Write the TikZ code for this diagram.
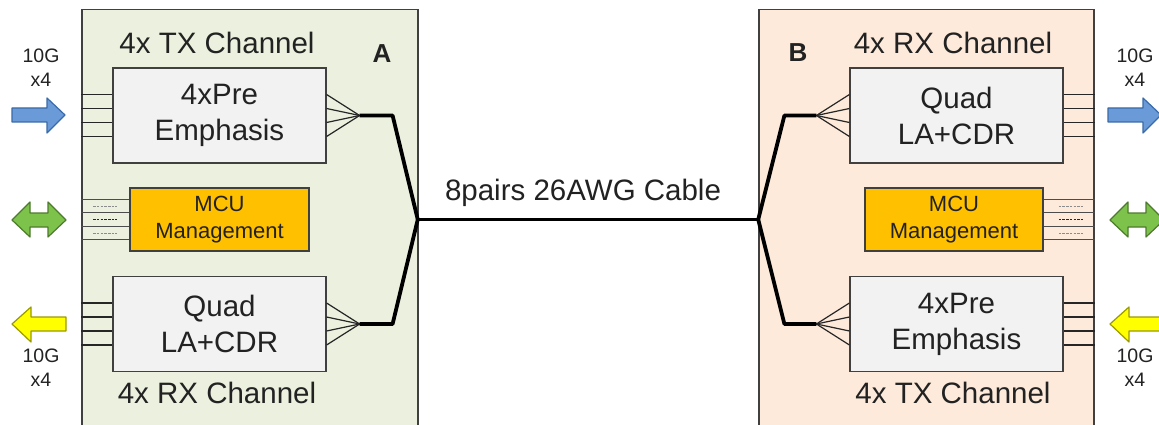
\documentclass[tikz,border=0pt]{standalone}
\usepackage{fontspec}
\setmainfont{Liberation Sans}
\usetikzlibrary{calc}
\definecolor{panelgreen}{HTML}{EBF1DE}
\definecolor{panelpeach}{HTML}{FDEADA}
\definecolor{boxgray}{HTML}{F2F2F2}
\definecolor{mcuorange}{HTML}{FFC000}
\definecolor{txt}{HTML}{222222}
\definecolor{edge}{HTML}{404040}
\definecolor{bluefill}{HTML}{6A9BD8}
\definecolor{blueedge}{HTML}{3A6AA8}
\definecolor{greenfill}{HTML}{7DC24B}
\definecolor{greenedge}{HTML}{4E7A2E}
\definecolor{yellowfill}{HTML}{FFFF00}
\definecolor{yellowedge}{HTML}{9A9A00}
\tikzset{
 panelbox/.style={draw=edge, line width=1.5pt, minimum height=440pt, inner sep=0pt},
 blockbox/.style={draw=edge, fill=boxgray, line width=1.2pt, minimum width=213pt, minimum height=95pt, inner sep=0pt, align=center, font=\fontsize{29.5}{36}\selectfont, text=txt},
 mcubox/.style={draw=edge, fill=mcuorange, line width=1.2pt, minimum width=179pt, minimum height=63pt, inner sep=0pt, align=center, font=\fontsize{22}{26.5}\selectfont, text=txt},
 wire/.style={draw=black!85, line width=1.2pt},
 cable/.style={draw=black, line width=3.8pt, line join=round},
 heading/.style={font=\fontsize{29.5}{34}\selectfont, text=txt, inner sep=0pt},
 rate/.style={font=\fontsize{19.5}{24}\selectfont, align=center, text=txt, inner sep=0pt},
 letter/.style={font=\bfseries\fontsize{26}{30}\selectfont, text=txt, inner sep=0pt},
 dashmark/.style={draw=black!55, line width=1pt, dash pattern=on 2.5pt off 1.2pt},
 bluearrow/.style={fill=bluefill, draw=blueedge, line width=1.2pt, line join=round},
 greenarrow/.style={fill=greenfill, draw=greenedge, line width=1.2pt, line join=round},
 yellowarrow/.style={fill=yellowfill, draw=yellowedge, line width=1.2pt, line join=round},
}
\begin{document}
\begin{tikzpicture}[x=1pt,y=-1pt]
\useasboundingbox (0,0) rectangle (1159,425);
\fill[white] (0,0) rectangle (1159,425);
\clip (0,0) rectangle (1159,425);

% panels
\node[panelbox, fill=panelgreen, minimum width=336pt] (panA) at (250,229.5) {};
\node[panelbox, fill=panelpeach, minimum width=335pt] (panB) at (926.5,229.5) {};

% blocks
\node[blockbox] (preA) at (219.5,115.5) {4xPre\\Emphasis};
\node[mcubox] (mcuA) at (219.5,219.5) {MCU\\Management};
\node[blockbox] (quadA) at (219.5,324) {Quad\\LA+CDR};
\node[blockbox] (quadB) at (956.5,115.5) {Quad\\LA+CDR};
\node[mcubox, minimum width=178pt] (mcuB) at (954,219.5) {MCU\\Management};
\node[blockbox] (preB) at (956.5,324) {4xPre\\Emphasis};

% headings
\node[heading] (txA) at (217,43) {4x TX Channel};
\node[heading] (rxA) at (217,393) {4x RX Channel};
\node[letter] (labA) at (382,54) {A};
\node[heading] (rxB) at (953,43) {4x RX Channel};
\node[heading] (txB) at (953,393) {4x TX Channel};
\node[letter] (labB) at (798,53) {B};
\node[heading] (cablelabel) at (583,193) {8pairs 26AWG Cable};

% rate labels
\node[rate] (rateAin) at (41,68) {10G\\x4};
\node[rate] (rateAout) at (41,368) {10G\\x4};
\node[rate] (rateBout) at (1135,68) {10G\\x4};
\node[rate] (rateBin) at (1135,368) {10G\\x4};

% parallel lanes between panel edge and blocks
\foreach \d in {-21,-7,7,21}{
  \draw[wire] ($(panA.west |- preA.west)+(0,\d)$) -- ($(preA.west)+(0,\d)$);
  \draw[wire] ($(panA.west |- quadA.west)+(0,\d)$) -- ($(quadA.west)+(0,\d)$);
  \draw[wire] ($(panB.east |- quadB.east)+(0,\d)$) -- ($(quadB.east)+(0,\d)$);
  \draw[wire] ($(panB.east |- preB.east)+(0,\d)$) -- ($(preB.east)+(0,\d)$);
}
\foreach \d in {-20,-7,7,20}{
  \draw[wire, draw=black!70] ($(panA.west |- mcuA.west)+(0,\d)$) -- ($(mcuA.west)+(0,\d)$);
  \draw[wire, draw=black!70] ($(panB.east |- mcuB.east)+(0,\d)$) -- ($(mcuB.east)+(0,\d)$);
}
\foreach \d/\c in {-13.5/black!45,0/black!85,13.5/black!45}{
  \draw[dashmark, draw=\c] ($(panA.west |- mcuA.west)+(12,\d)$) -- ($(panA.west |- mcuA.west)+(36,\d)$);
  \draw[dashmark, draw=\c] ($(panB.east |- mcuB.east)+(-36,\d)$) -- ($(panB.east |- mcuB.east)+(-12,\d)$);
}

% fan-out points and cable path
\coordinate (fanA1) at ($(preA.east)+(33,0)$);
\coordinate (kneeA1) at ($(preA.east)+(66,0)$);
\coordinate (fanA2) at ($(quadA.east)+(33,0)$);
\coordinate (kneeA2) at ($(quadA.east)+(66,0)$);
\coordinate (jA) at ($(panA.east |- mcuA.east)+(-1,0)$);
\coordinate (fanB1) at ($(quadB.west)+(-33,0)$);
\coordinate (kneeB1) at ($(quadB.west)+(-65,0)$);
\coordinate (fanB2) at ($(preB.west)+(-33,0)$);
\coordinate (kneeB2) at ($(preB.west)+(-65,0)$);
\coordinate (jB) at (panB.west |- mcuB.west);

\foreach \d in {-21,-7,7,21}{
  \draw[wire] ($(preA.east)+(0,\d)$) -- (fanA1);
  \draw[wire] ($(quadA.east)+(0,\d)$) -- (fanA2);
  \draw[wire] ($(quadB.west)+(0,\d)$) -- (fanB1);
  \draw[wire] ($(preB.west)+(0,\d)$) -- (fanB2);
}
\draw[cable] (fanA1) -- (kneeA1) -- (jA) -- (kneeA2) -- (fanA2);
\draw[cable] (fanB1) -- (kneeB1) -- (jB) -- (kneeB2) -- (fanB2);
\draw[cable] (jA) -- (jB);

% external arrows, side A
\draw[bluearrow] (12,108) -- (47,108) -- (47,98) -- (65,115) -- (47,133) -- (47,122) -- (12,122) -- cycle;
\draw[greenarrow] (12,220) -- (30,202) -- (30,213) -- (48,213) -- (48,202) -- (66,220) -- (48,237) -- (48,227) -- (30,227) -- (30,237) -- cycle;
\draw[yellowarrow] (12,324) -- (31,307) -- (31,317) -- (66,317) -- (66,331) -- (31,331) -- (31,342) -- cycle;

% external arrows, side B
\draw[bluearrow] (1108,108) -- (1143,108) -- (1143,98) -- (1161,115) -- (1143,133) -- (1143,122) -- (1108,122) -- cycle;
\draw[greenarrow] (1110,220) -- (1128,202) -- (1128,213) -- (1146,213) -- (1146,202) -- (1164,220) -- (1146,237) -- (1146,227) -- (1128,227) -- (1128,237) -- cycle;
\draw[yellowarrow] (1110,324) -- (1129,307) -- (1129,317) -- (1164,317) -- (1164,331) -- (1129,331) -- (1129,342) -- cycle;
\end{tikzpicture}
\end{document}
